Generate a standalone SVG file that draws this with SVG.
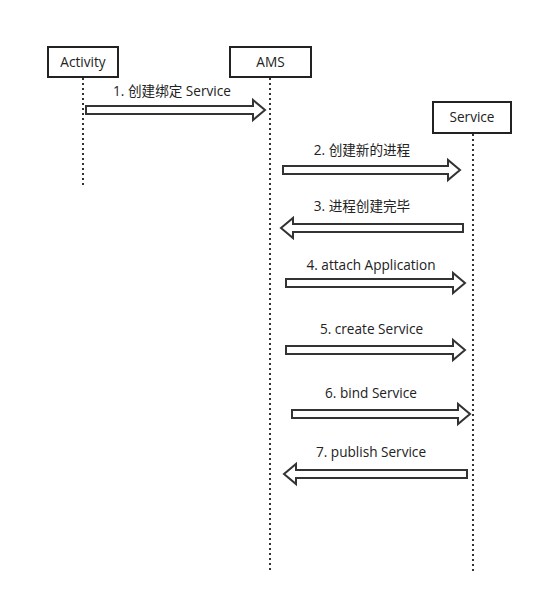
<svg xmlns="http://www.w3.org/2000/svg" width="544" height="602" viewBox="0 0 544 602">
<style>
.box{fill:#fff;stroke:#222;stroke-width:2}
.life{stroke:#333;stroke-width:2;stroke-dasharray:2 3;fill:none}
.arr{fill:#fff;stroke:#333;stroke-width:2;stroke-linejoin:miter}
text{font-family:"Open Sans","Noto Sans CJK SC",sans-serif;font-size:13.6px;fill:#222;text-anchor:middle}
</style>
<rect width="544" height="602" fill="#fff"/>
<g id="lifelines">
<line class="life" x1="83" y1="78" x2="83" y2="185"/>
<line class="life" x1="270" y1="78" x2="270" y2="571"/>
<line class="life" x1="473" y1="134" x2="473" y2="571"/>
</g>
<g id="activity"><rect class="box" x="48" y="47" width="70" height="30"/><text x="83" y="67">Activity</text></g>
<g id="ams"><rect class="box" x="230" y="47" width="81" height="30"/><text x="270.5" y="67">AMS</text></g>
<g id="service"><rect class="box" x="433" y="102" width="78" height="31"/><text x="472" y="122">Service</text></g>
<g id="connectors">
<polygon class="arr" points="86,106 253,106 253,100 265,110 253,120 253,114 86,114"/>
<text x="172" y="96">1. 创建绑定 Service</text>
<polygon class="arr" points="283,166 448,166 448,160 460,170 448,180 448,174 283,174"/>
<text x="362" y="155">2. 创建新的进程</text>
<polygon class="arr" points="463,224 293,224 293,218 281,228 293,238 293,232 463,232"/>
<text x="362" y="211">3. 进程创建完毕</text>
<polygon class="arr" points="286,279 453,279 453,273 465,283 453,293 453,287 286,287"/>
<text x="371" y="270">4. attach Application</text>
<polygon class="arr" points="286,346 453,346 453,340 465,350 453,360 453,354 286,354"/>
<text x="371.5" y="334">5. create Service</text>
<polygon class="arr" points="292,410 458,410 458,404 470,414 458,424 458,418 292,418"/>
<text x="371" y="398">6. bind Service</text>
<polygon class="arr" points="467,470 296,470 296,464 284,474 296,484 296,478 467,478"/>
<text x="371" y="457">7. publish Service</text>
</g>
</svg>
